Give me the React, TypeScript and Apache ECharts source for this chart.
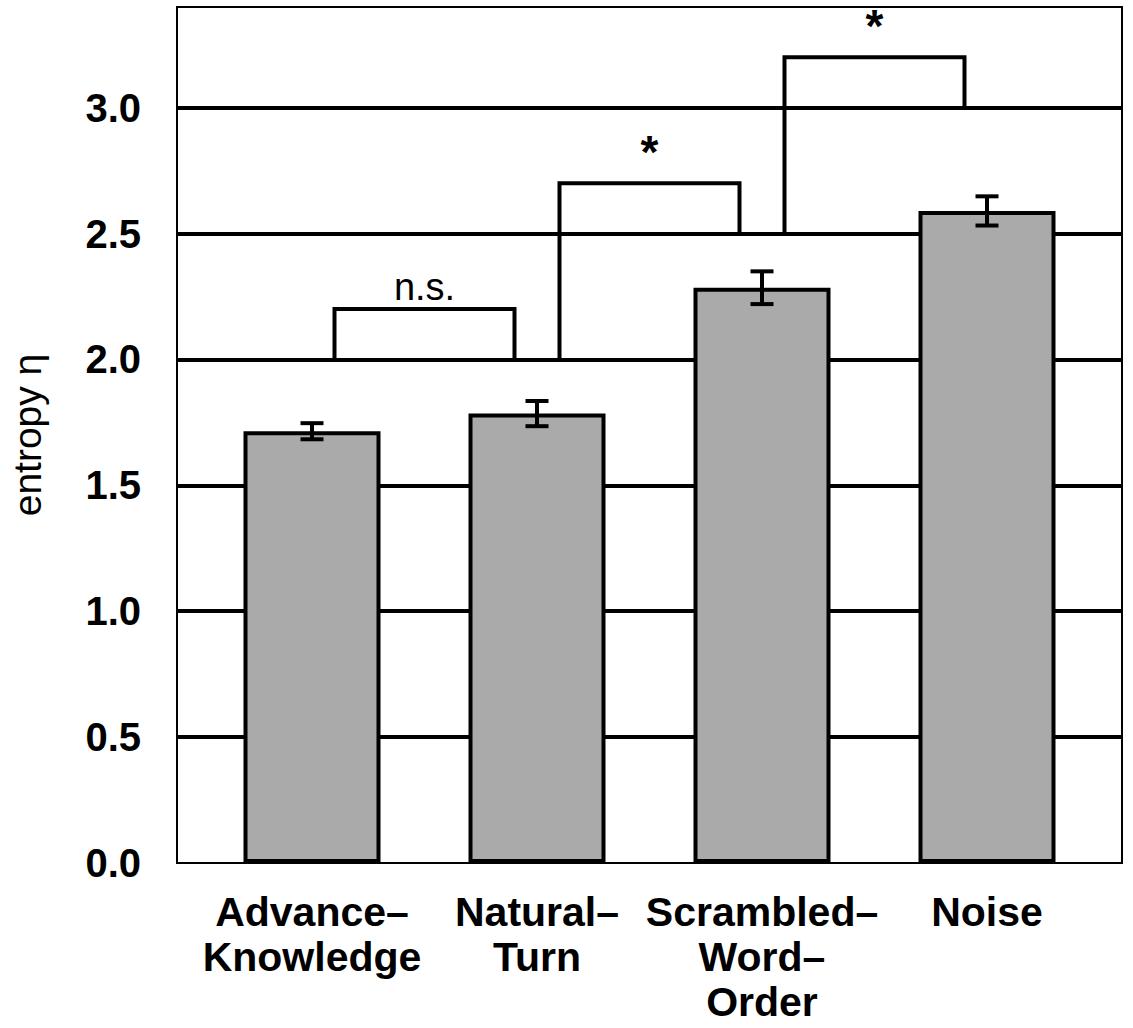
import React, { useEffect, useRef } from "react";
import * as echarts from "echarts";

const categories = ["Advance–\nKnowledge", "Natural–\nTurn", "Scrambled–\nWord–\nOrder", "Noise"];
const positions = [1, 2, 3, 4];
const means = [1.715, 1.785, 2.285, 2.59];
const errors = [0.032, 0.05, 0.065, 0.058];
const yTicks = [0, 0.5, 1.0, 1.5, 2.0, 2.5, 3.0];

const bracketLeft = [1.1, 2.1, 3.1];
const bracketRight = [1.9, 2.9, 3.9];
const bracketLeftBase = [2.0, 2.0, 2.5];
const bracketRightBase = [2.0, 2.5, 3.0];
const bracketTop = [2.2, 2.7, 3.2];
const bracketLabels = ["n.s.", "*", "*"];

const FONT = "'Liberation Sans', Arial, Helvetica, sans-serif";

export default function App() {
  const ref = useRef<HTMLDivElement>(null);

  useEffect(() => {
    if (!ref.current) return;
    const chart = echarts.init(ref.current, undefined, { renderer: "svg" });

    const bracketSeries = bracketLeft.map((x1, i) => ({
      type: "line",
      z: 3,
      symbol: "none",
      silent: true,
      lineStyle: { color: "#000", width: 4, join: "miter", cap: "butt" },
      data: [
        [x1, bracketLeftBase[i]],
        [x1, bracketTop[i]],
        [bracketRight[i], bracketTop[i]],
        [bracketRight[i], bracketRightBase[i]],
      ],
    }));

    const option = {
      animation: false,
      backgroundColor: "#fff",
      grid: {
        left: 175,
        top: 7,
        width: 947,
        height: 856,
        show: true,
        borderColor: "#000",
        borderWidth: 2,
        backgroundColor: "transparent",
      },
      xAxis: {
        type: "value",
        min: 0.4,
        max: 4.6,
        interval: 0.2,
        splitLine: { show: false },
        axisTick: { show: false },
        axisLine: { show: false },
        axisLabel: {
          margin: 26,
          fontSize: 41,
          fontWeight: "bold",
          fontFamily: FONT,
          color: "#000",
          lineHeight: 45,
          align: "center",
          formatter: (v: number) => {
            const r = Math.round(v);
            if (Math.abs(v - r) < 1e-6 && r >= 1 && r <= categories.length) {
              return categories[positions.indexOf(r)];
            }
            return "";
          },
        },
      },
      yAxis: {
        type: "value",
        min: 0,
        max: 3.4,
        interval: 0.5,
        name: "entropy η",
        nameLocation: "middle",
        nameGap: 130,
        nameTextStyle: { fontSize: 39, fontFamily: FONT, color: "#000" },
        axisLine: { show: false },
        axisTick: { show: false },
        splitLine: {
          show: true,
          showMinLine: false,
          showMaxLine: false,
          lineStyle: { color: "#000", width: 4 },
        },
        axisLabel: {
          margin: 36,
          fontSize: 40,
          fontWeight: "bold",
          fontFamily: FONT,
          color: "#000",
          formatter: (v: number) => (yTicks.some((t) => Math.abs(t - v) < 1e-6) ? v.toFixed(1) : ""),
        },
      },
      series: [
        {
          type: "bar",
          z: 2,
          barWidth: 137,
          silent: true,
          itemStyle: { color: "#aaaaaa", borderColor: "#000", borderWidth: 4 },
          data: positions.map((p, i) => [p, means[i]]),
        },
        ...bracketSeries,
        {
          type: "custom",
          z: 4,
          silent: true,
          data: positions.map((p, i) => [p, means[i] - errors[i], means[i] + errors[i]]),
          renderItem: (params: any, api: any) => {
            const x = api.value(0);
            const lo = api.coord([x, api.value(1)]);
            const hi = api.coord([x, api.value(2)]);
            const hw = 11.5;
            const style = { stroke: "#000", lineWidth: 4, fill: "none" };
            return {
              type: "group",
              children: [
                { type: "line", shape: { x1: lo[0], y1: lo[1], x2: hi[0], y2: hi[1] }, style },
                { type: "line", shape: { x1: hi[0] - hw, y1: hi[1], x2: hi[0] + hw, y2: hi[1] }, style },
                { type: "line", shape: { x1: lo[0] - hw, y1: lo[1], x2: lo[0] + hw, y2: lo[1] }, style },
              ],
            };
          },
        },
        {
          type: "custom",
          z: 5,
          silent: true,
          data: bracketLeft.map((x1, i) => [(x1 + bracketRight[i]) / 2, bracketTop[i]]),
          renderItem: (params: any, api: any) => {
            const p = api.coord([api.value(0), api.value(1)]);
            const label = bracketLabels[params.dataIndex];
            const isStar = label === "*";
            return {
              type: "text",
              x: p[0],
              y: p[1] + (isStar ? -31 : -22),
              style: {
                text: label,
                fontSize: isStar ? 46 : 38,
                fontWeight: isStar ? "bold" : "normal",
                fontFamily: FONT,
                fill: "#000",
                align: "center",
                verticalAlign: "middle",
              },
            };
          },
        },
      ],
    };

    chart.setOption(option as any);
    return () => chart.dispose();
  }, []);

  return (
    <div
      ref={ref}
      style={{ position: "absolute", left: 0, top: 0, width: 1133, height: 1028, background: "#fff" }}
    />
  );
}
